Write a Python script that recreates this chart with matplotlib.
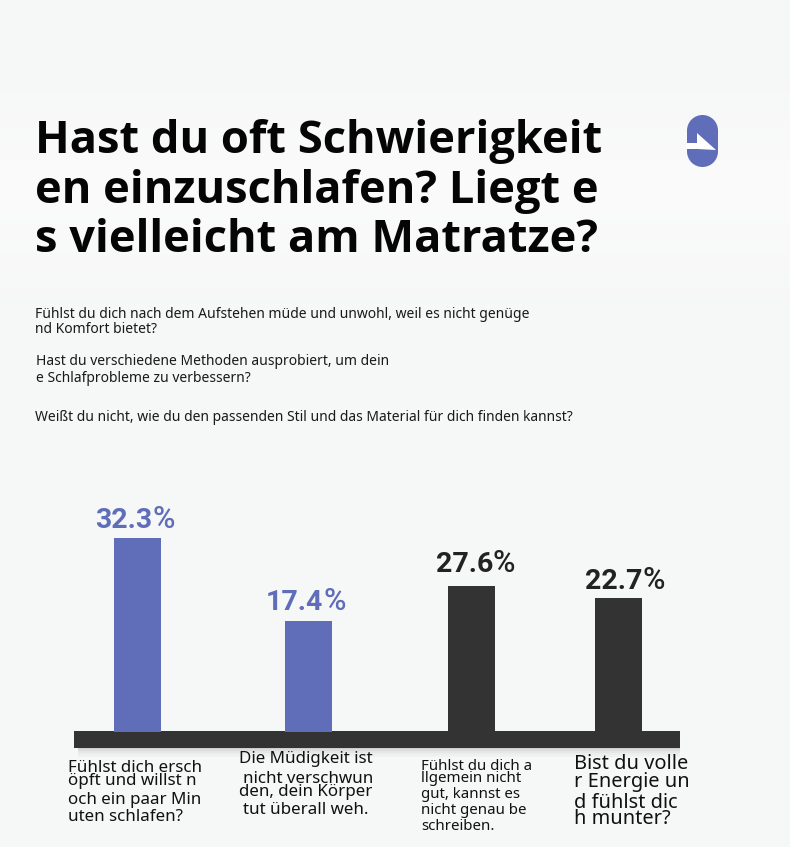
import numpy as np
import matplotlib
matplotlib.use("Agg")
from matplotlib import pyplot as plt
from matplotlib.colors import LinearSegmentedColormap
from matplotlib.patches import Circle, Polygon, Rectangle

W, H = 790, 847
BLUE = "#606db9"
DARK = "#333333"

# values printed above the bars
labels = ["32.3", "17.4", "27.6", "22.7"]
# the bars in the picture are not to scale with their labels, these are the drawn heights
heights = [32.3, 18.5, 24.3, 22.3]
bar_colors = [BLUE, BLUE, DARK, DARK]
bar_x = [137.5, 308.5, 471.5, 618.5]
# label offsets from the bar centre / top, in px
label_dx = [0, 0, 6.5, 9]
label_dy = [10, 11, 14, 9]

title = ["Hast du oft Schwierigkeit", "en einzuschlafen? Liegt e", "s vielleicht am Matratze?"]
title_y = [142, 192, 241]

para = [
    (35, 314.5, "Fühlst du dich nach dem Aufstehen müde und unwohl, weil es nicht genüge"),
    (35, 329.5, "nd Komfort bietet?"),
    (36, 361.5, "Hast du verschiedene Methoden ausprobiert, um dein"),
    (36, 378.5, "e Schlafprobleme zu verbessern?"),
    (35, 417.5, "Weißt du nicht, wie du den passenden Stil und das Material für dich finden kannst?"),
]

# x, y, align, size, text
captions = [
    (68, 768, "left", 12.2, "Fühlst dich ersch"),
    (68, 781, "left", 12.2, "öpft und willst n"),
    (68, 800, "left", 12.2, "och ein paar Min"),
    (68, 817, "left", 12.2, "uten schlafen?"),
    (306, 759, "center", 12.2, "Die Müdigkeit ist"),
    (308, 779, "center", 12.2, "nicht verschwun"),
    (306, 792, "center", 12.2, "den, dein Körper"),
    (306, 810, "center", 12.2, "tut überall weh."),
    (421, 766, "left", 10.8, "Fühlst du dich a"),
    (421, 778, "left", 10.8, "llgemein nicht"),
    (421, 794, "left", 10.8, "gut, kannst es"),
    (421, 811, "left", 10.8, "nicht genau be"),
    (421, 827, "left", 10.8, "schreiben."),
    (574, 764, "left", 14.4, "Bist du volle"),
    (574, 782, "left", 14.4, "r Energie un"),
    (574, 803, "left", 14.4, "d fühlst dic"),
    (574, 819, "left", 14.4, "h munter?"),
]

fig = plt.figure(figsize=(W / 100, H / 100), dpi=100, facecolor="#f6f7f7")

# page layer in pixel coordinates
page = fig.add_axes([0, 0, 1, 1], zorder=1)
page.set_xlim(0, W)
page.set_ylim(H, 0)
page.axis("off")

# paler band behind the heading, fades out up and down
fade = LinearSegmentedColormap.from_list("fade", ["#f6f7f7", "#fbfbfc"])
glow = np.clip(1 - np.abs(np.linspace(0, H, 200) - 190) / 130, 0, 1).reshape(-1, 1)
page.imshow(glow, cmap=fade, extent=(0, W, H, 0), aspect="auto", vmin=0, vmax=1, zorder=0)

for t, y in zip(title, title_y):
    page.text(35, y, t, fontsize=32.6, fontweight="bold", family="Open Sans",
              color="#050505", va="center", ha="left")
for x, y, t in para:
    page.text(x, y, t, fontsize=10.0, family="Noto Sans", color="#1a1a1a", va="center")

# arrow badge
page.add_patch(Circle((702.5, 130.5), 15.5, fc=BLUE, ec="none"))
page.add_patch(Circle((702.5, 151.5), 15.5, fc=BLUE, ec="none"))
page.add_patch(Rectangle((687, 130.5), 31, 21, fc=BLUE, ec="none"))
page.add_patch(Rectangle((686, 143), 12, 6, fc="white", ec="none"))
page.add_patch(Polygon([(697, 133), (716, 150), (697, 149)], fc="white", ec="none"))

# baseline slab with its soft shadow
for i, a in enumerate([0.03, 0.06, 0.1, 0.16, 0.25]):
    page.add_patch(Rectangle((78, 747 + 2 * (4 - i)), 602, 2, fc="#555555", ec="none", alpha=a))
page.add_patch(Rectangle((74, 731), 606, 17, fc=DARK, ec="none"))

for x, y, ha, size, t in captions:
    page.text(x, y, t, fontsize=size, family="Noto Sans", color="#111111", va="center", ha=ha)

# bars, 0 sits on y=732 px and 32.3 on y=538 px
chart = fig.add_axes([0, 1 - 732 / H, 1, 194 / H], zorder=2)
chart.patch.set_alpha(0)
chart.set_xlim(0, W)
chart.set_ylim(0, 32.3)
chart.axis("off")
bars = chart.bar(bar_x, heights, width=47, color=bar_colors)

for rect, lab, c, dx, dy in zip(bars, labels, bar_colors, label_dx, label_dy):
    cx = rect.get_x() + rect.get_width() / 2
    top = rect.get_height()
    tc = c if c == BLUE else "#222222"
    off = (0.72 * dx, 0.72 * dy)
    chart.annotate(lab, (cx + 15, top), xytext=off, textcoords="offset points",
                   ha="right", va="baseline", fontsize=20.5, fontweight="bold",
                   family="Roboto", color=tc, annotation_clip=False)
    chart.annotate("%", (cx + 15, top), xytext=off, textcoords="offset points",
                   ha="left", va="baseline", fontsize=22, fontweight="medium",
                   family="Roboto", color=tc, annotation_clip=False)

fig.savefig("out.png", dpi=100, facecolor=fig.get_facecolor())
